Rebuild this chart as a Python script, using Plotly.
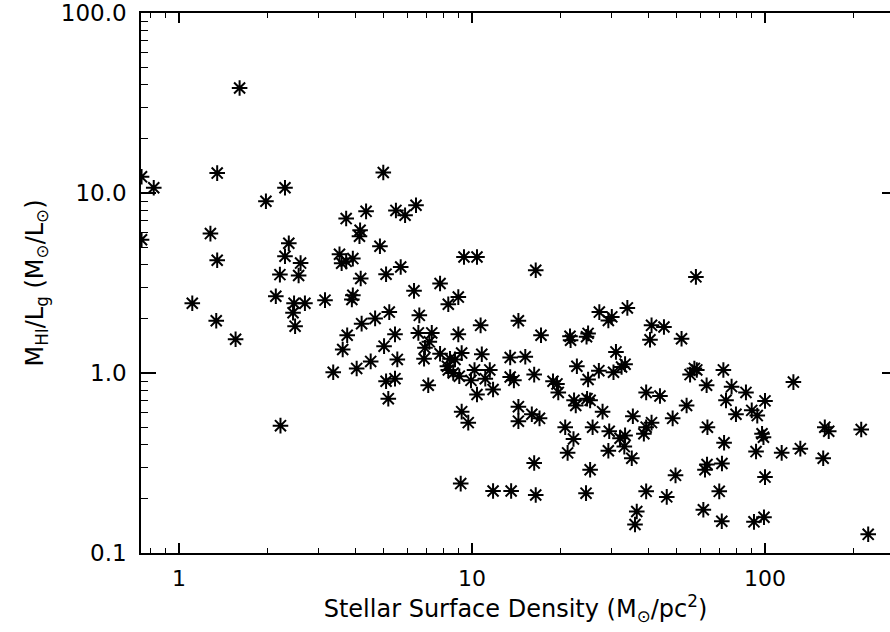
import plotly.graph_objects as go

# Stellar surface density (Msun/pc^2)
surface_density = [
    0.745, 0.82, 0.745, 1.11, 1.28, 1.35, 1.35, 1.34, 1.56, 1.61,
    1.98, 2.30, 2.37, 2.30, 2.60, 2.21, 2.56, 2.14, 2.47, 2.69,
    2.45, 2.49, 3.15, 2.22, 3.53, 3.59, 3.92, 3.72, 3.72, 4.35,
    4.15, 4.13, 4.85, 4.98, 5.50, 5.91, 6.44, 4.17, 5.09, 5.71,
    3.92, 3.89, 6.34, 7.78, 8.30, 8.98, 9.39, 10.4, 5.22, 4.67,
    4.20, 3.75, 3.62, 3.36, 4.04, 4.51, 5.01, 5.46, 5.56, 5.09,
    5.46, 5.18, 6.61, 6.56, 7.29, 7.15, 6.91, 6.86, 7.78, 7.09,
    8.98, 8.41, 8.75, 9.22, 8.24, 8.30, 8.63, 9.05, 10.8, 10.2,
    11.5, 9.92, 11.1, 10.4, 11.8, 10.7, 14.4, 13.5, 15.2, 13.5,
    13.9, 9.22, 9.71, 14.4, 14.4, 9.15, 11.8, 13.6, 16.5, 58.1,
    17.2, 21.6, 21.7, 24.6, 24.9, 27.2, 29.2, 30.0, 33.9, 41.0,
    45.2, 40.5, 51.9, 16.3, 18.9, 19.5, 19.7, 22.8, 24.9, 27.1,
    30.4, 31.0, 32.4, 33.3, 55.5, 57.4, 58.5, 63.2, 72.1, 22.3,
    22.6, 24.7, 25.3, 27.9, 39.3, 43.8, 54.0, 16.0, 17.0, 20.8,
    22.2, 21.2, 25.8, 29.4, 32.0, 33.3, 33.1, 35.1, 29.2, 35.4,
    39.3, 38.6, 41.0, 48.4, 63.6, 16.3, 25.3, 49.5, 63.4, 62.4,
    16.5, 24.5, 39.3, 46.2, 61.6, 36.5, 36.0, 76.9, 86.1, 73.6,
    79.6, 90.1, 94.1, 100.0, 125.0, 72.5, 93.2, 97.7, 98.8, 114.0,
    132.0, 160.0, 165.0, 213.0, 158.0, 71.3, 100.0, 69.8, 71.2, 91.7,
    99.2, 225.0,
]

# HI mass to g-band luminosity ratio (Msun/Lsun)
mhi_over_lg = [
    12.3, 10.7, 5.5, 2.44, 5.95, 12.9, 4.23, 1.95, 1.54, 38.3,
    9.0, 10.7, 5.26, 4.45, 4.08, 3.52, 3.48, 2.67, 2.44, 2.44,
    2.16, 1.82, 2.54, 0.51, 4.57, 4.07, 4.32, 4.17, 7.21, 7.91,
    6.21, 5.75, 5.06, 13.0, 8.0, 7.52, 8.55, 3.35, 3.54, 3.88,
    2.70, 2.56, 2.86, 3.14, 2.41, 2.64, 4.41, 4.41, 2.18, 2.01,
    1.88, 1.62, 1.35, 1.01, 1.06, 1.16, 1.41, 1.64, 1.19, 0.90,
    0.93, 0.72, 2.09, 1.67, 1.67, 1.49, 1.38, 1.20, 1.28, 0.855,
    1.64, 1.20, 1.19, 1.29, 1.09, 1.04, 1.00, 0.96, 1.27, 1.04,
    1.04, 0.91, 0.93, 0.76, 0.81, 1.84, 1.95, 1.22, 1.23, 0.95,
    0.91, 0.61, 0.53, 0.65, 0.54, 0.243, 0.221, 0.221, 3.72, 3.42,
    1.62, 1.60, 1.52, 1.59, 1.66, 2.18, 1.96, 2.05, 2.30, 1.84,
    1.80, 1.53, 1.55, 0.98, 0.90, 0.87, 0.78, 1.09, 0.92, 1.03,
    1.01, 1.31, 1.08, 1.12, 0.98, 1.06, 1.04, 0.855, 1.04, 0.705,
    0.66, 0.72, 0.705, 0.61, 0.78, 0.745, 0.66, 0.59, 0.56, 0.50,
    0.43, 0.36, 0.50, 0.475, 0.434, 0.45, 0.39, 0.336, 0.37, 0.575,
    0.50, 0.46, 0.53, 0.56, 0.50, 0.316, 0.29, 0.27, 0.31, 0.29,
    0.21, 0.215, 0.22, 0.205, 0.174, 0.17, 0.144, 0.84, 0.78, 0.705,
    0.59, 0.62, 0.58, 0.70, 0.89, 0.41, 0.366, 0.46, 0.44, 0.36,
    0.38, 0.50, 0.475, 0.485, 0.336, 0.314, 0.264, 0.22, 0.15, 0.149,
    0.158, 0.127,
]

x_tick_vals = [1, 10, 100]
x_tick_text = ["1", "10", "100"]
y_tick_vals = [0.1, 1, 10, 100]
y_tick_text = ["0.1", "1.0", "10.0", "100.0"]

x_minor = [0.8, 0.9] + [m * d for d in (1, 10) for m in range(2, 10)] + [200]
y_minor = [m * d for d in (0.1, 1, 10) for m in range(2, 10)]

FONT = "DejaVu Sans"
X_RANGE = [-0.1297, 2.4266]
Y_RANGE = [-1, 2]

fig = go.Figure()
fig.add_trace(go.Scatter(
    x=surface_density, y=mhi_over_lg, mode="markers",
    marker=dict(symbol="asterisk-open", size=13,
                line=dict(color="black", width=2), color="black"),
    cliponaxis=True, showlegend=False,
))
# same points on the right-hand axis (invisible) so that axis is drawn
fig.add_trace(go.Scatter(
    x=surface_density, y=mhi_over_lg, mode="markers", yaxis="y2",
    marker=dict(size=1, opacity=0), hoverinfo="skip", showlegend=False,
))

fig.update_layout(
    width=890, height=632,
    margin=dict(l=141, r=0, t=13, b=79),
    paper_bgcolor="white", plot_bgcolor="white",
    font=dict(family=FONT, size=23, color="black"),
    yaxis2=dict(type="log", range=Y_RANGE, overlaying="y", side="right",
                showline=False, showgrid=False, zeroline=False,
                tickmode="array", tickvals=y_tick_vals, ticks="inside",
                ticklen=8, tickwidth=1.5, tickcolor="black",
                showticklabels=False),
)

fig.update_xaxes(
    type="log", range=X_RANGE,
    showline=True, linecolor="black", linewidth=1.5, mirror="ticks",
    showgrid=False, zeroline=False,
    tickmode="array", tickvals=x_tick_vals, ticktext=x_tick_text,
    ticks="inside", ticklen=10, tickwidth=1.5, tickcolor="black",
    ticklabelstandoff=5,
    tickfont=dict(family=FONT, size=22),
    minor=dict(tickmode="array", tickvals=x_minor, ticks="inside",
               ticklen=5, tickwidth=1.2, tickcolor="black", showgrid=False),
    title=dict(text="Stellar Surface Density (M<sub>⊙</sub>/pc<sup>2</sup>)",
               font=dict(family=FONT, size=24), standoff=4),
)

fig.update_yaxes(
    selector=dict(overlaying=None),
)
fig.layout.yaxis.update(
    type="log", range=Y_RANGE,
    showline=True, linecolor="black", linewidth=1.5, mirror=False,
    showgrid=False, zeroline=False,
    tickmode="array", tickvals=y_tick_vals, ticktext=y_tick_text,
    ticks="inside", ticklen=15, tickwidth=1.5, tickcolor="black",
    ticklabelstandoff=8,
    tickfont=dict(family=FONT, size=23),
    minor=dict(tickmode="array", tickvals=y_minor, ticks="inside",
               ticklen=7, tickwidth=1.2, tickcolor="black", showgrid=False),
    title=dict(text="M<sub>HI</sub>/L<sub>g</sub> (M<sub>⊙</sub>/L<sub>⊙</sub>)",
               font=dict(family=FONT, size=24), standoff=10),
)

fig.write_html("out.html")
